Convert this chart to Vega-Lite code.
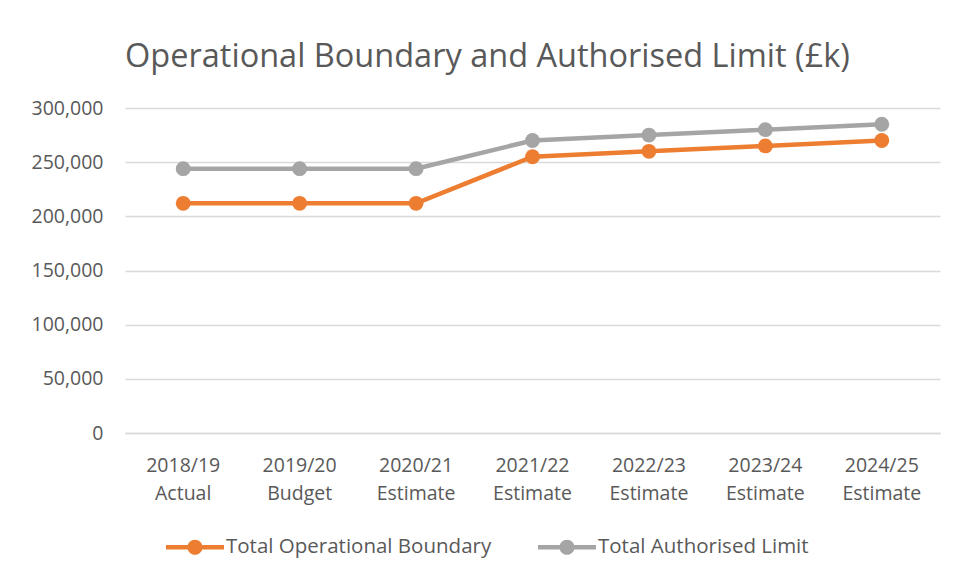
{
  "$schema": "https://vega.github.io/schema/vega-lite/v6.json",
  "width": 815,
  "height": 325,
  "autosize": {"type": "none"},
  "padding": {"left": 125, "top": 108, "right": 18, "bottom": 146},
  "background": "white",
  "title": {
    "text": "Operational Boundary and Authorised Limit (£k)",
    "font": "Open Sans",
    "fontSize": 32.5,
    "fontWeight": "normal",
    "color": "#595959",
    "anchor": "middle",
    "dx": -45,
    "offset": 25
  },
  "data": {
    "values": [
      {"year": "2018/19 Actual", "series": "Total Operational Boundary", "value": 212000},
      {"year": "2019/20 Budget", "series": "Total Operational Boundary", "value": 212000},
      {"year": "2020/21 Estimate", "series": "Total Operational Boundary", "value": 212000},
      {"year": "2021/22 Estimate", "series": "Total Operational Boundary", "value": 255000},
      {"year": "2022/23 Estimate", "series": "Total Operational Boundary", "value": 260000},
      {"year": "2023/24 Estimate", "series": "Total Operational Boundary", "value": 265000},
      {"year": "2024/25 Estimate", "series": "Total Operational Boundary", "value": 270000},
      {"year": "2018/19 Actual", "series": "Total Authorised Limit", "value": 244000},
      {"year": "2019/20 Budget", "series": "Total Authorised Limit", "value": 244000},
      {"year": "2020/21 Estimate", "series": "Total Authorised Limit", "value": 244000},
      {"year": "2021/22 Estimate", "series": "Total Authorised Limit", "value": 270000},
      {"year": "2022/23 Estimate", "series": "Total Authorised Limit", "value": 275000},
      {"year": "2023/24 Estimate", "series": "Total Authorised Limit", "value": 280000},
      {"year": "2024/25 Estimate", "series": "Total Authorised Limit", "value": 285000}
    ]
  },
  "encoding": {
    "x": {
      "field": "year",
      "type": "nominal",
      "sort": null,
      "scale": {"type": "band", "paddingInner": 0, "paddingOuter": 0},
      "axis": {
        "title": null,
        "labelAngle": 0,
        "labelExpr": "split(datum.label, ' ')",
        "labelFont": "Open Sans",
        "labelFontSize": 19.5,
        "labelColor": "#595959",
        "labelLineHeight": 28,
        "labelPadding": 23,
        "ticks": false,
        "domain": true,
        "domainColor": "#D9D9D9",
        "domainWidth": 1.5,
        "grid": false
      }
    },
    "y": {
      "field": "value",
      "type": "quantitative",
      "scale": {"domain": [0, 300000], "nice": false},
      "axis": {
        "title": null,
        "values": [0, 50000, 100000, 150000, 200000, 250000, 300000],
        "format": ",d",
        "labelFont": "Open Sans",
        "labelFontSize": 19.5,
        "labelColor": "#595959",
        "labelPadding": 22,
        "ticks": false,
        "domain": false,
        "grid": true,
        "gridColor": "#D9D9D9",
        "gridWidth": 1.5
      }
    },
    "color": {
      "field": "series",
      "type": "nominal",
      "scale": {
        "domain": ["Total Operational Boundary", "Total Authorised Limit"],
        "range": ["#ED7D31", "#A5A5A5"]
      },
      "legend": {
        "title": null,
        "orient": "none",
        "direction": "horizontal",
        "legendX": 41,
        "legendY": 410,
        "padding": 0,
        "labelFont": "Open Sans",
        "labelFontSize": 20.5,
        "labelColor": "#595959",
        "labelLimit": 0,
        "symbolType": "M-1,-0.078 L1,-0.078 L1,0.078 L-1,0.078 Z M-0.26,0 A0.26,0.26 0 1,1 0.26,0 A0.26,0.26 0 1,1 -0.26,0 Z",
        "symbolSize": 3364,
        "symbolStrokeWidth": 0,
        "symbolOffset": 0,
        "labelOffset": 2,
        "columnPadding": 46
      }
    }
  },
  "layer": [
    {"mark": {"type": "line", "strokeWidth": 4.5}},
    {"mark": {"type": "point", "filled": true, "opacity": 1, "size": 220, "shape": "circle"}}
  ],
  "config": {"view": {"stroke": null}}
}
